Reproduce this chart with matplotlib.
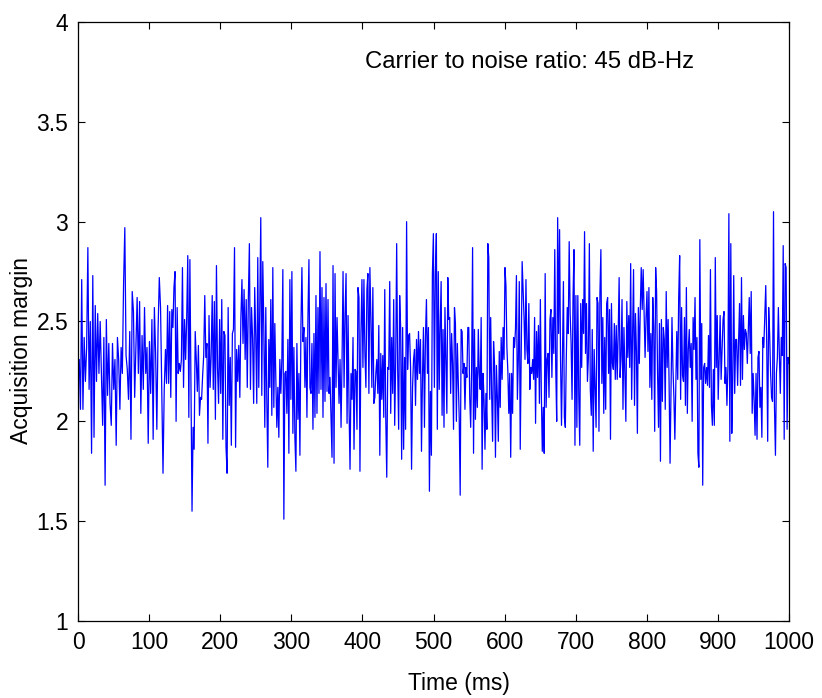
import numpy as np
import matplotlib
matplotlib.use("Agg")
import matplotlib.pyplot as plt

plt.rcParams["font.family"] = ["Liberation Sans", "DejaVu Sans"]

# segment boundaries (ms) of the traced values below
seg_edges = [0, 123, 250, 377, 504, 630, 757, 884, 1000]

seg1 = [2.24, 2.31, 2.06, 2.71, 2.06, 2.42, 2.20, 2.37, 2.87, 2.16, 2.50, 1.84, 2.73, 1.92,
        2.58, 2.20, 2.54, 2.24, 2.50, 2.24, 1.98, 2.42, 1.68, 2.51, 2.13, 2.39, 2.09, 1.98,
        2.39, 2.16, 2.31, 1.88, 2.42, 2.31, 2.06, 2.37, 2.24, 2.69, 2.97, 2.33, 2.26, 2.11,
        2.45, 1.91, 2.65, 2.55, 2.12, 2.37, 2.62, 2.24, 2.60, 2.04, 2.43, 2.16, 2.57, 2.24,
        2.37, 1.89, 2.40, 2.14, 2.51, 1.91, 2.57, 2.34, 1.96, 2.46, 2.72, 2.57, 2.17, 1.74,
        2.16]
seg2 = [2.36, 2.19, 2.58, 2.19, 2.55, 2.12, 2.56, 2.47, 2.67, 2.75, 2.00, 2.57, 2.24, 2.29,
        2.25, 2.31, 2.77, 2.17, 2.51, 2.31, 2.52, 2.83, 2.02, 2.81, 2.17, 1.55, 1.97, 1.86,
        2.45, 2.31, 2.15, 2.38, 2.03, 2.12, 2.11, 2.23, 2.33, 2.63, 2.32, 2.39, 1.89, 2.53,
        2.17, 2.33, 2.63, 2.16, 2.60, 2.01, 2.78, 2.27, 2.09, 2.51, 2.14, 2.61, 1.91, 2.45,
        2.43, 1.87, 1.74, 2.57, 2.08, 2.32, 1.88, 2.44, 2.46, 2.87, 1.87, 2.36, 2.20, 2.38,
        2.12, 2.52, 2.71, 2.39, 2.66, 2.31, 2.61, 2.17, 2.61, 2.89, 2.16, 2.57, 2.42, 2.09,
        2.67]
seg3 = [2.42, 2.09, 2.82, 2.17, 2.57, 3.02, 2.13, 2.80, 2.47, 1.97, 2.57, 2.11, 1.77, 2.41,
        2.17, 2.61, 2.03, 2.77, 2.07, 2.49, 2.21, 1.97, 2.17, 1.92, 2.31, 2.14, 2.31, 2.76,
        1.51, 2.24, 2.25, 2.04, 2.41, 1.84, 2.71, 2.11, 2.75, 1.94, 2.37, 1.92, 1.75, 2.39,
        2.01, 2.24, 1.83, 2.47, 2.77, 2.40, 2.47, 2.17, 2.42, 2.02, 2.52, 2.81, 2.17, 2.14,
        2.39, 1.96, 2.44, 2.02, 2.63, 2.04, 2.57, 2.14, 2.85, 2.16, 2.67, 2.02, 2.62, 2.10,
        2.69, 2.15, 2.61, 2.14, 2.22, 2.01, 1.82, 2.78, 1.79, 2.74, 2.17, 2.52, 2.31, 2.09,
        2.31, 1.97, 2.31, 2.75, 2.17, 2.54]
seg4 = [2.74, 1.99, 2.53, 2.07, 1.76, 2.24, 2.11, 2.42, 1.86, 2.26, 2.25, 1.96, 2.67, 2.62,
        1.75, 2.44, 2.71, 2.27, 2.71, 2.34, 2.17, 2.66, 2.74, 2.14, 2.77, 2.52, 2.17, 2.67,
        2.09, 2.12, 2.24, 2.31, 2.14, 2.48, 1.83, 2.34, 2.11, 2.33, 2.02, 2.66, 2.02, 1.72,
        2.27, 2.26, 2.70, 2.04, 2.42, 2.14, 2.61, 1.98, 2.30, 2.89, 2.26, 1.96, 2.63, 2.47,
        1.81, 2.47, 1.86, 2.32, 1.96, 3.00, 2.26, 2.43, 2.44, 2.27, 1.76, 2.17, 2.31, 2.36,
        2.08, 2.41, 2.21, 2.45, 2.24, 2.41, 1.85, 2.22, 2.47, 1.97, 2.42, 2.61, 2.24, 2.47,
        1.65, 2.15, 1.83, 2.74, 2.94, 2.17, 2.74]
seg5 = [2.94, 1.96, 2.75, 2.16, 2.47, 2.70, 2.03, 2.46, 1.97, 2.57, 2.31, 2.04, 2.72, 2.51,
        2.52, 2.14, 2.44, 2.29, 1.96, 2.57, 2.49, 2.00, 2.39, 2.20, 2.01, 1.63, 2.46, 2.45,
        2.24, 2.29, 2.06, 2.27, 2.22, 2.47, 2.47, 2.12, 1.97, 2.27, 2.87, 1.84, 2.46, 2.01,
        2.27, 2.07, 2.46, 2.24, 2.16, 2.52, 1.76, 2.24, 2.11, 1.86, 2.14, 1.96, 2.89, 2.82,
        2.11, 2.52, 2.14, 1.90, 2.40, 2.29, 1.82, 2.28, 2.12, 1.90, 2.35, 2.07, 2.42, 2.21,
        2.47, 2.31, 2.77, 2.68, 2.37, 2.25, 2.04, 2.24, 1.82, 2.24, 2.04, 2.42, 2.37, 2.46,
        2.73, 2.11, 2.31, 2.70, 1.86, 2.32, 2.80, 2.66, 2.52, 2.31]
seg6 = [2.71, 2.36, 2.29, 2.59, 2.16, 2.27, 2.24, 2.31, 2.21, 2.52, 1.99, 2.45, 2.22, 2.48,
        2.09, 2.61, 2.14, 1.85, 2.07, 1.84, 2.74, 2.07, 2.31, 2.34, 2.12, 2.51, 2.56, 2.22,
        2.52, 2.34, 2.86, 2.27, 2.00, 3.02, 2.44, 2.96, 2.31, 1.98, 2.32, 2.70, 2.02, 1.97,
        2.32, 2.57, 2.44, 2.90, 2.54, 2.39, 2.11, 2.62, 2.86, 1.88, 2.63, 1.97, 2.63, 2.12,
        1.88, 2.59, 2.27, 2.61, 2.44, 2.95, 2.34, 2.59, 2.20, 2.32, 2.89, 2.16, 2.03, 2.46,
        1.85, 2.36, 2.17, 1.97, 2.62, 2.59, 1.95, 2.64, 2.86, 2.19, 2.52, 2.04, 2.42, 2.06,
        2.59, 2.62, 2.24, 2.56, 1.91, 2.59, 2.29, 2.26, 2.49, 2.21]
seg7 = [2.48, 2.21, 2.44, 2.72, 2.22, 2.32, 2.61, 2.06, 2.47, 2.24, 2.00, 2.60, 2.32, 2.53,
        2.27, 2.79, 2.11, 2.43, 2.76, 2.08, 2.54, 2.35, 1.94, 2.57, 2.29, 2.56, 2.77, 2.56,
        2.76, 2.53, 2.32, 2.52, 2.65, 2.35, 2.67, 2.17, 2.44, 2.11, 2.62, 2.47, 1.95, 2.77,
        2.65, 2.24, 1.97, 2.49, 1.80, 2.51, 2.10, 2.47, 2.41, 2.06, 2.65, 2.27, 2.51, 2.19,
        1.79, 2.17, 2.52, 2.27, 2.12, 1.91, 2.17, 2.45, 2.21, 2.62, 2.83, 2.11, 2.57, 2.23,
        2.20, 2.52, 2.08, 2.67, 2.04, 2.36, 2.46, 2.27, 2.39, 2.00, 2.52, 2.36, 2.62, 2.21,
        2.42, 1.84, 1.77, 2.91, 2.21, 2.49, 1.68, 2.27, 2.29, 2.19]
seg8 = [2.27, 2.18, 2.43, 2.17, 2.76, 2.08, 1.98, 2.26, 1.98, 2.82, 2.27, 2.53, 2.11, 2.31,
        2.53, 2.21, 2.36, 2.51, 2.55, 2.19, 2.27, 2.08, 2.27, 3.04, 1.90, 2.89, 1.94, 2.21,
        2.73, 2.14, 2.41, 2.41, 2.18, 2.40, 2.59, 2.18, 2.72, 2.21, 2.53, 2.36, 2.46, 2.44,
        2.29, 2.45, 2.62, 2.34, 2.65, 2.04, 2.24, 2.11, 1.93, 2.24, 1.91, 2.32, 2.35, 2.07,
        2.17, 1.92, 2.42, 2.37, 2.52, 2.68, 2.39, 1.90, 2.57, 2.44, 2.24, 2.12, 2.10, 3.05,
        2.07, 1.83, 2.24, 2.32, 2.57, 2.34, 2.14, 2.42, 2.33, 2.88, 1.91, 2.79, 2.77, 1.96,
        2.32, 2.29]

segments = [seg1, seg2, seg3, seg4, seg5, seg6, seg7, seg8]

t_parts = []
for i, seg in enumerate(segments):
    last = i == len(segments) - 1
    t_parts.append(np.linspace(seg_edges[i], seg_edges[i + 1], len(seg), endpoint=last))
t = np.concatenate(t_parts)
margin = np.concatenate([np.asarray(s) for s in segments])

fig = plt.figure(figsize=(8.22, 6.98), dpi=100)
ax = fig.add_axes([0.0949, 0.1103, 0.8650, 0.8582])
ax.plot(t, margin, color=(0, 0, 1), linewidth=0.9)

ax.set_xlim(0, 1000)
ax.set_ylim(1, 4)
ax.set_xticks(np.arange(0, 1001, 100))
ax.set_yticks([1, 1.5, 2, 2.5, 3, 3.5, 4])
ax.set_yticklabels(["1", "1.5", "2", "2.5", "3", "3.5", "4"])
ax.tick_params(direction="in", top=True, right=True, length=5, width=0.8,
               labelsize=16.5, pad=7)
for sp in ax.spines.values():
    sp.set_linewidth(0.9)

ax.set_xlabel("Time (ms)", fontsize=16.5, va="center")
ax.xaxis.set_label_coords(0.536, -0.1035)
ax.set_ylabel("Acquisition margin", fontsize=16.5, va="center")
ax.yaxis.set_label_coords(-0.08, 0.452)
ax.text(404, 3.8, "Carrier to noise ratio: 45 dB-Hz", fontsize=17.2,
        ha="left", va="center")

fig.savefig("out.png", dpi=100)
